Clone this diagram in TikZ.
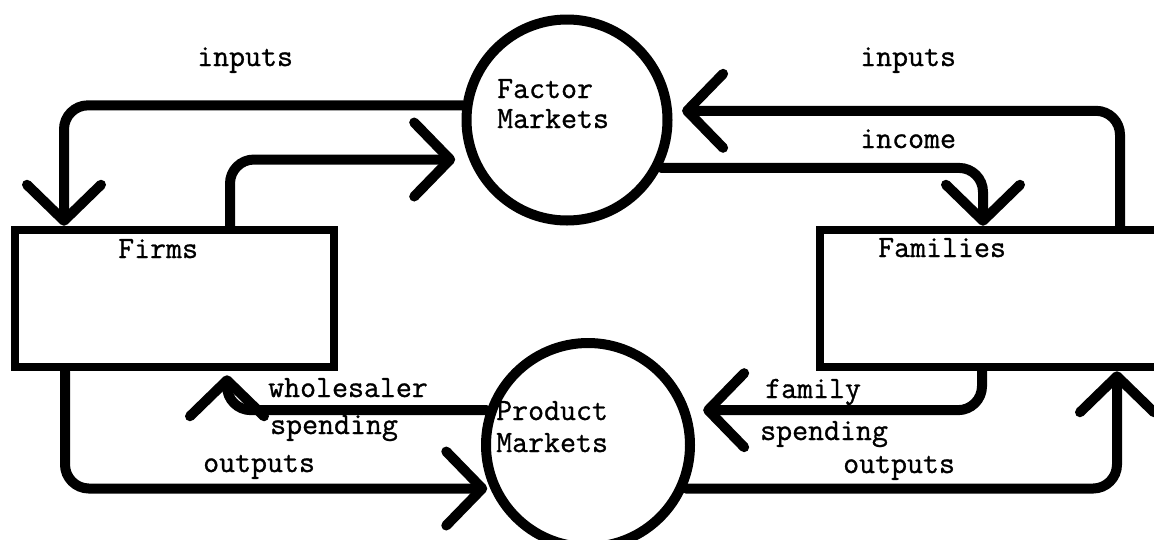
\documentclass[tikz,border=0pt]{standalone}
\usepackage{fontspec}
\newfontfamily\typewriter{Latin Modern Mono}[FakeBold=0.9]
\usetikzlibrary{arrows.meta}
\begin{document}
\begin{tikzpicture}[x=1pt,y=-1pt,
  box/.style={draw, line width=8.5pt, inner sep=0pt, outer sep=4.25pt},
  market/.style={draw, circle, line width=10pt, inner sep=0pt, outer sep=5pt},
  flow/.style={line width=10pt, rounded corners=24pt, line cap=round,
    -{Straight Barb[length=36pt,width=74pt,round]}},
  lbl/.style={font=\fontsize{31}{36}\selectfont\typewriter, anchor=base west, inner sep=0pt}]
\useasboundingbox (0,0) rectangle (1154,539);
\fill[white] (0,0) rectangle (1154,539);
\clip (0,0) rectangle (1154,539);

% the four sectors
\node[box, minimum width=319pt, minimum height=137pt] (firms) at (174.5,298.5) {};
\node[box, minimum width=360pt, minimum height=137pt] (families) at (1000,298.5) {};
\node[market, minimum size=201pt] (factor) at (567,120) {};
\node[market, minimum size=204pt] (product) at (588,445) {};

% names
\node[lbl] (firmsname) at (118,258) {Firms};
\node[lbl] (famname) at (878,257) {Families};
\node[lbl] (fm1) at (497,98) {Factor};
\node[lbl] (fm2) at (497,128) {Markets};
\node[lbl] (pm1) at (496,420) {Product};
\node[lbl] (pm2) at (496,452) {Markets};

% flows through the factor markets
\draw[flow] (factor.172) -| (64,0 |- firms.north);
\draw[flow, shorten >=14pt] (230,0 |- firms.north) |- (factor.202);
\draw[flow, shorten >=10pt] (1120,0 |- families.north) |- (factor.5);
\draw[flow] (factor.333) -| (983,0 |- families.north);

% flows through the product markets
\draw[flow, shorten >=3pt] (65,0 |- firms.south) |- (product.204);
\draw[flow, shorten >=4pt] (product.161) -| (227,0 |- firms.south);
\draw[flow, shorten >=14pt] (982,0 |- families.south) |- (product.19);
\draw[flow] (product.336) -| (1117,0 |- families.south);

% flow labels
\node[lbl] (in1) at (197,66) {inputs};
\node[lbl] (in2) at (860,66) {inputs};
\node[lbl] (inc) at (860,148) {income};
\node[lbl] (ws1) at (268,397) {wholesaler};
\node[lbl] (ws2) at (270,434) {spending};
\node[lbl] (out1) at (203,472) {outputs};
\node[lbl] (fs1) at (765,398) {family};
\node[lbl] (fs2) at (760,440) {spending};
\node[lbl] (out2) at (843,473) {outputs};
\end{tikzpicture}
\end{document}
